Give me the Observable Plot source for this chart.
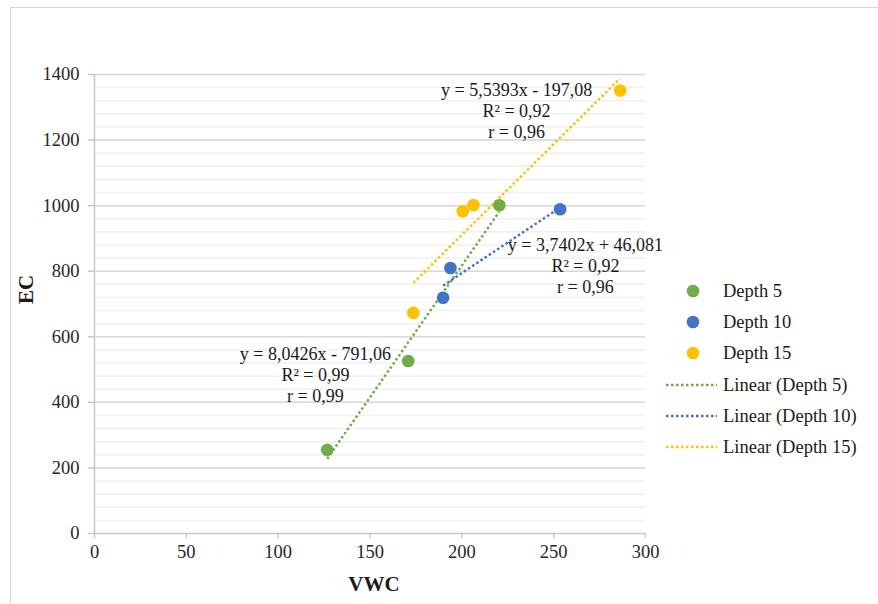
<!DOCTYPE html>
<html><head><meta charset="utf-8">
<script src="https://cdn.jsdelivr.net/npm/d3@7"></script>
<script src="https://cdn.jsdelivr.net/npm/@observablehq/plot@0.6"></script>
<style>
body{margin:0;width:878px;height:604px;overflow:hidden;background:#fff;font-family:"Liberation Serif","Times New Roman",serif;position:relative}
#frame{position:absolute;left:10px;top:7px;width:900px;height:700px;border:1px solid #d9d9d9;box-sizing:border-box}
#chart{position:absolute;left:0;top:0}
#legend{position:absolute;left:0;top:0}
</style></head><body>
<div id="frame"></div>
<div id="chart"></div>
<svg id="legend" width="878" height="604"></svg>
<script>
// ---- data ----
const seriesNames = ["Depth 5", "Depth 10", "Depth 15"];
const seriesColors = ["#70AD47", "#4472C4", "#FFC000"];
const vwcDepth5 = [126.7, 170.8, 220.4];
const ecDepth5 = [255, 526, 1001];
const vwcDepth10 = [189.8, 193.8, 253.5];
const ecDepth10 = [719, 810, 989];
const vwcDepth15 = [173.6, 200.5, 206.3, 286.2];
const ecDepth15 = [673, 983, 1002, 1351];
const slopes = [8.0426, 3.7402, 5.5393];
const intercepts = [-791.06, 46.081, -197.08];
const eqTexts = ["y = 8,0426x - 791,06", "y = 3,7402x + 46,081", "y = 5,5393x - 197,08"];
const r2Texts = ["R² = 0,99", "R² = 0,92", "R² = 0,92"];
const rTexts = ["r = 0,99", "r = 0,96", "r = 0,96"];
const xTicks = [0, 50, 100, 150, 200, 250, 300];
const yTicks = [0, 200, 400, 600, 800, 1000, 1200, 1400];
const yMinor = d3.range(0, 1401, 40);

const vwcAll = [vwcDepth5, vwcDepth10, vwcDepth15];
const ecAll = [ecDepth5, ecDepth10, ecDepth15];
const points = [];
vwcAll.forEach((xs, i) => xs.forEach((x, j) => points.push({series: seriesNames[i], vwc: x, ec: ecAll[i][j]})));
const trends = vwcAll.map((xs, i) => {
  const lo = d3.min(xs), hi = d3.max(xs);
  return {series: seriesNames[i], x1: lo, y1: slopes[i] * lo + intercepts[i], x2: hi, y2: slopes[i] * hi + intercepts[i]};
});
const labelPos = [[120.3, 487], [267.3, 817], [229.8, 1292]];
const labels = seriesNames.map((s, i) => ({x: labelPos[i][0], y: labelPos[i][1], text: eqTexts[i] + "\n" + r2Texts[i] + "\n" + rTexts[i]}));

const font = "'Liberation Serif', 'Times New Roman', serif";
const chart = Plot.plot({
  width: 878, height: 604,
  marginLeft: 94, marginRight: 233, marginTop: 74, marginBottom: 71,
  style: {fontFamily: font, background: "transparent", overflow: "visible"},
  x: {domain: [0, 300]},
  y: {domain: [0, 1400]},
  color: {domain: seriesNames, range: seriesColors},
  marks: [
    Plot.ruleY(yMinor, {stroke: "#f0f0f0", strokeWidth: 1.5}),
    Plot.ruleY(yTicks.filter(d => d > 0), {stroke: "#d9d9d9", strokeWidth: 1.5}),
    Plot.ruleY([0], {stroke: "#c8c8c8", strokeWidth: 1.5}),
    Plot.ruleX([0], {stroke: "#c8c8c8", strokeWidth: 1.5}),
    Plot.axisX({ticks: xTicks, tickSize: 5, tickPadding: 6, stroke: "#c8c8c8", strokeWidth: 1.5, fontSize: 18.5, fontFamily: font, color: "#262626", label: null, tickFormat: d => String(d)}),
    Plot.axisY({ticks: yTicks, tickSize: 6, tickPadding: 9, stroke: "#c8c8c8", strokeWidth: 1.5, fontSize: 18.5, fontFamily: font, color: "#262626", label: null, tickFormat: d => String(d)}),
    Plot.text(["EC"], {frameAnchor: "left", dx: -68, rotate: -90, fontSize: 21, fontWeight: "bold", fontFamily: font, fill: "#1a1a1a"}),
    Plot.text(["VWC"], {frameAnchor: "bottom", dx: 4, dy: 57, fontSize: 21, fontWeight: "bold", fontFamily: font, fill: "#1a1a1a"}),
    Plot.link(trends, {x1: "x1", y1: "y1", x2: "x2", y2: "y2", stroke: "series", strokeWidth: 2.5, strokeDasharray: "2.5,2.5"}),
    Plot.dot(points, {x: "vwc", y: "ec", fill: "series", r: 6.3}),
    Plot.text(labels, {x: "x", y: "y", text: "text", fontSize: 18, fontFamily: font, lineHeight: 1.17, fill: "#1a1a1a", lineAnchor: "middle"})
  ]
});
document.getElementById("chart").appendChild(chart);

// ---- legend ----
const lg = d3.select("#legend");
const rowY = [291, 322, 353, 385, 416, 447];
seriesNames.forEach((s, i) => {
  lg.append("circle").attr("cx", 693).attr("cy", rowY[i]).attr("r", 6.3).attr("fill", seriesColors[i]);
  lg.append("text").attr("x", 723).attr("y", rowY[i]).attr("dy", "0.35em").attr("font-size", 18.5).attr("font-family", font).attr("fill", "#1a1a1a").text(s);
});
seriesNames.forEach((s, i) => {
  const y = rowY[i + 3];
  lg.append("line").attr("x1", 666).attr("x2", 717).attr("y1", y).attr("y2", y).attr("stroke", seriesColors[i]).attr("stroke-width", 2.5).attr("stroke-dasharray", "2.5 2.5");
  lg.append("text").attr("x", 723).attr("y", y).attr("dy", "0.35em").attr("font-size", 18.5).attr("font-family", font).attr("fill", "#1a1a1a").text("Linear (" + s + ")");
});
</script>
</body></html>
